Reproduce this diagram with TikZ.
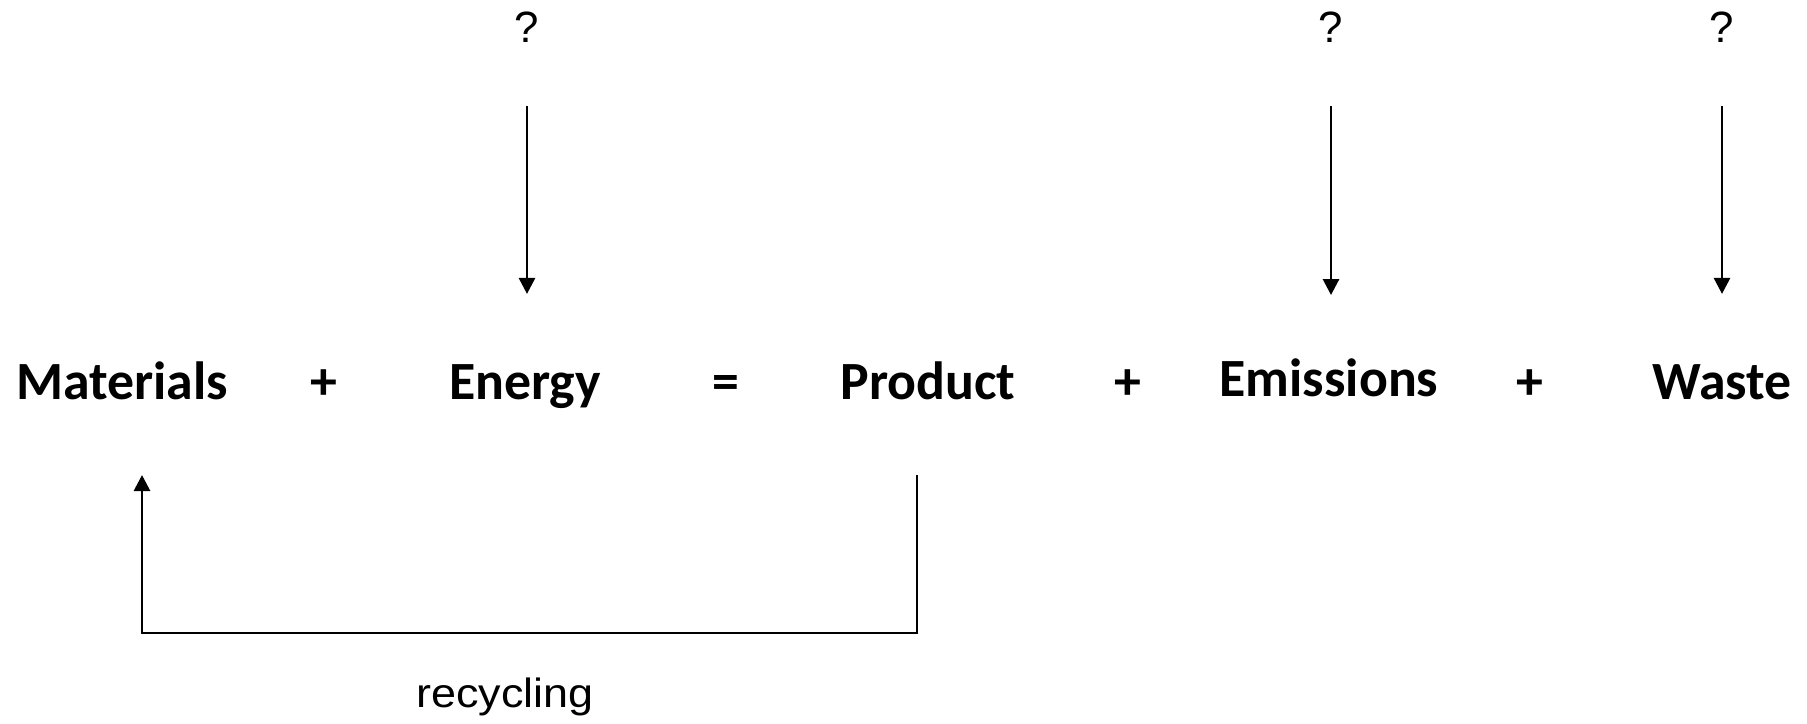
\documentclass[tikz,border=0pt]{standalone}
\usepackage{fontspec}
\setmainfont{Carlito}
\newfontfamily\qfont{Liberation Sans}
\newfontfamily\recfont[FakeStretch=1.1]{Liberation Sans}
\usetikzlibrary{positioning}
\usetikzlibrary{arrows.meta}

\tikzset{
  term/.style={font=\fontsize{54}{60}\selectfont\bfseries, anchor=base, inner sep=0pt},
  query/.style={font=\qfont\fontsize{44}{50}\selectfont, anchor=base, inner sep=0pt},
  flow/.style={line width=2.8bp, -{Triangle[width=16bp,length=16bp]}}
}

\begin{document}
\begin{tikzpicture}[x=1bp,y=-1bp]
  \useasboundingbox (0,0) rectangle (1807,724);

  % the balance
  \node [term] (materials) at (122,399) {Materials};
  \node [term] (plusa) at (324,399) {+};
  \node [term] (energy) at (525,399) {Energy};
  \node [term] (equals) at (726,399) {=};
  \node [term] (product) at (928,399) {Product};
  \node [term] (plusb) at (1128,399) {+};
  \node [term] (emissions) at (1329,396) {Emissions};
  \node [term] (plusc) at (1530,399) {+};
  \node [term] (waste) at (1722,399) {Waste};

  \foreach \t/\x/\s in {energy/527/70,emissions/1331/63,waste/1722/70} {
  \node [query] (q\t) at (\x,43) {?};
  \draw [flow, shorten <=63bp, shorten >=\s bp] (q\t.south) -- (q\t.south |- \t.north);
}

  % recycling loop
  \coordinate (recfrom) at (917,475);
  \coordinate (recto) at (142,475);
  \draw [flow] (recfrom) -- ++(0,158) -| (recto);
  \node [font=\recfont\fontsize{41}{46}\selectfont, anchor=base] (recycling) at (505,707) {recycling};

\end{tikzpicture}
\end{document}
